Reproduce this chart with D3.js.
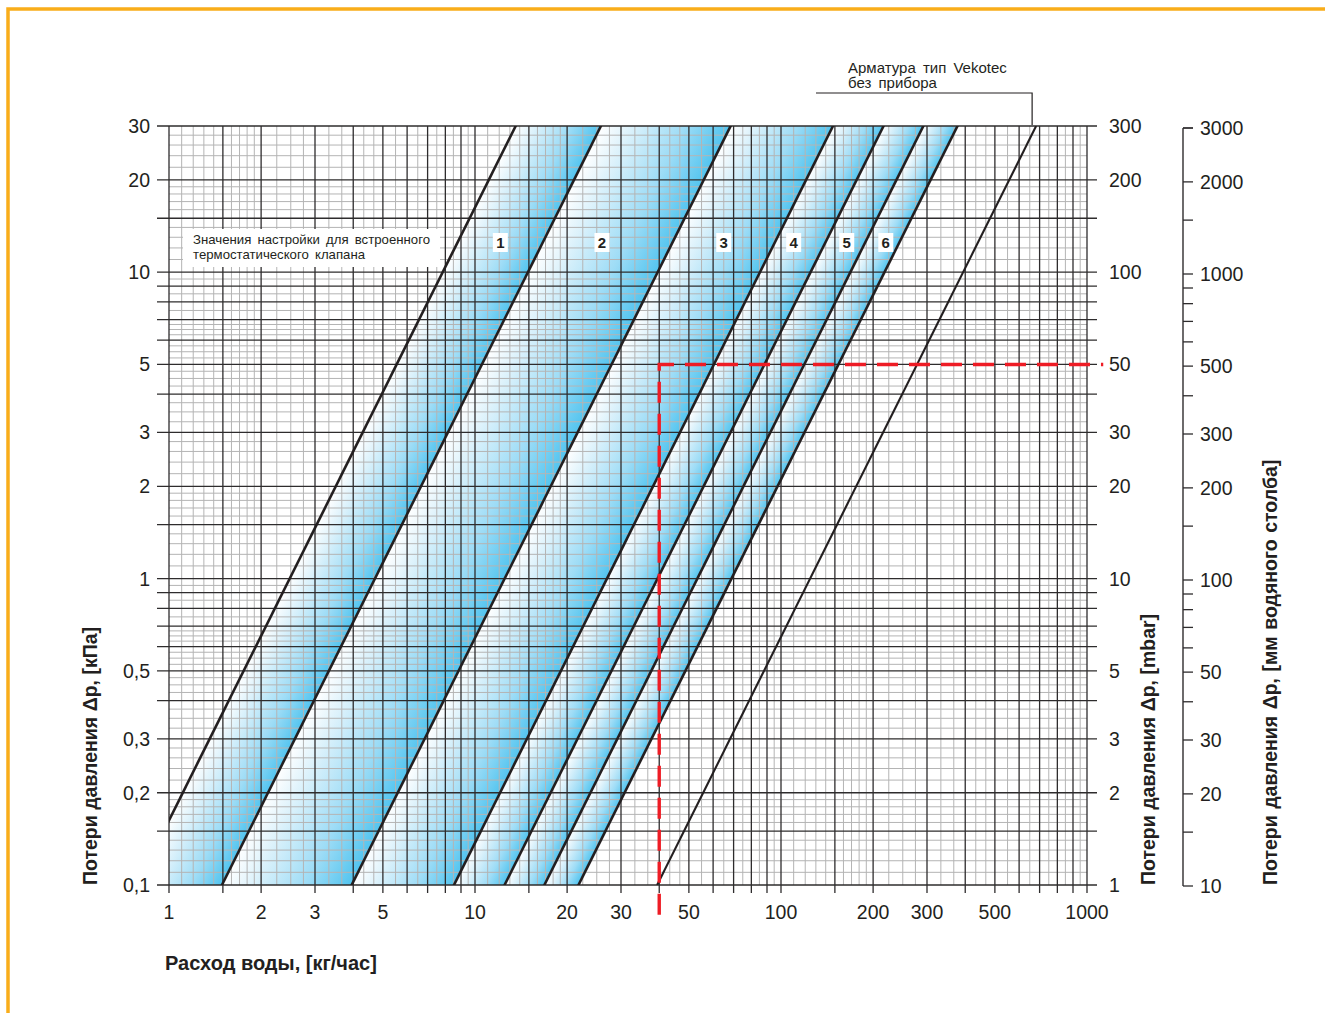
<!DOCTYPE html>
<html>
<head>
<meta charset="utf-8">
<script src="https://cdn.jsdelivr.net/npm/d3@7"></script>
<style>
  body { margin: 0; background: #fff; }
  svg { display: block; font-family: "Liberation Sans", Arial, sans-serif; }
</style>
</head>
<body>
<script>
// values
var flowTicks = [1, 2, 3, 5, 10, 20, 30, 50, 100, 200, 300, 500, 1000];
var kpaTicks = [0.1, 0.2, 0.3, 0.5, 1, 2, 3, 5, 10, 20, 30];
var kpaTickNames = ["0,1", "0,2", "0,3", "0,5", "1", "2", "3", "5", "10", "20", "30"];
var mbarTicks = [1, 2, 3, 5, 10, 20, 30, 50, 100, 200, 300];
var mmTicks = [10, 20, 30, 50, 100, 200, 300, 500, 1000, 2000, 3000];

// heavy and light grid lines inside one decade
var majorMantissa = [1, 1.5, 2, 3, 4, 5, 6, 7, 8, 9];
var xMinorMantissa = [1.1, 1.2, 1.3, 1.4, 1.6, 1.7, 1.8, 1.9, 2.25, 2.5, 2.75, 3.33, 3.67, 4.33, 4.67, 5.5, 6.5, 7.5, 8.5, 9.5];
var yMinorMantissa = [1.1, 1.2, 1.3, 1.4, 1.6, 1.7, 1.8, 1.9, 2.2, 2.4, 2.6, 2.8, 3.25, 3.5, 3.75, 4.25, 4.5, 4.75, 5.25, 5.5, 5.75, 6.25, 6.5, 6.75, 7.5, 8.5, 9.5];

// valve curves: flow [kg/h] at 1 kPa, dp = (Q / q1)^2
var settingFlowAt1kPa = [2.48, 4.71, 12.5, 27.0, 39.5, 53.3, 68.9];
var vekotecFlowAt1kPa = 124.5;
var settingNames = ["1", "2", "3", "4", "5", "6"];
var settingLabelFlow = [12.1, 26, 65, 110, 164, 220];
var settingLabelKpa = 12.5;

// example reading
var exampleFlow = 40;
var exampleKpa = 5;

var width = 1325;
var height = 1013;

var svg = d3.select("body")
    .append("svg")
    .attr("width", width)
    .attr("height", height);

var x = d3.scaleLog().domain([1, 1000]).range([169, 1087]);
var y = d3.scaleLog().domain([0.1, 30]).range([885, 126]);
var yMbar = d3.scaleLog().domain([1, 300]).range([885, 126]);
var yMm = d3.scaleLog().domain([10, 3000]).range([886, 128]);

// orange frame
svg.append("path")
    .attr("d", "M8,1013 V9 H1325")
    .attr("fill", "none")
    .attr("stroke", "#f9ad1a")
    .attr("stroke-width", 3.5);

var defs = svg.append("defs");
defs.append("clipPath").attr("id", "plot-clip")
    .append("rect")
    .attr("x", x(1)).attr("y", y(30))
    .attr("width", x(1000) - x(1)).attr("height", y(0.1) - y(30));

function decadeValues(lo, hi, mantissa) {
    var out = [];
    for (var d = lo; d < hi; d *= 10) {
        mantissa.forEach(m => out.push(+(m * d).toPrecision(6)));
    }
    out.push(hi);
    return out;
}

var xMajor = decadeValues(1, 1000, majorMantissa);
var xMinor = decadeValues(1, 1000, xMinorMantissa).filter(v => v < 1000);
var yMajor = decadeValues(0.1, 100, majorMantissa).filter(v => v <= 30);
var yMinor = decadeValues(0.1, 100, yMinorMantissa).filter(v => v < 30);

// blue bands between neighbouring curves
var bands = svg.append("g").attr("clip-path", "url(#plot-clip)");

function curveFlow(q1, dp) { return q1 * Math.sqrt(dp); }

d3.range(settingFlowAt1kPa.length - 1).forEach(i => {
    var qa = settingFlowAt1kPa[i], qb = settingFlowAt1kPa[i + 1];
    var px = x(qa), py = y(1);
    var h = x(qb) - x(qa);
    var grad = defs.append("linearGradient")
        .attr("id", "band" + i)
        .attr("gradientUnits", "userSpaceOnUse")
        .attr("x1", px).attr("y1", py)
        .attr("x2", px + 0.8 * h).attr("y2", py + 0.4 * h);
    grad.append("stop").attr("offset", 0).attr("stop-color", "#ffffff");
    grad.append("stop").attr("offset", 0.25).attr("stop-color", "#daf1fb");
    grad.append("stop").attr("offset", 0.65).attr("stop-color", "#9ddcf6");
    grad.append("stop").attr("offset", 1).attr("stop-color", "#52c4ef");

    var pts = [
        [x(curveFlow(qa, 0.05)), y(0.05)],
        [x(curveFlow(qa, 40)), y(40)],
        [x(curveFlow(qb, 40)), y(40)],
        [x(curveFlow(qb, 0.05)), y(0.05)]
    ];
    bands.append("polygon")
        .attr("points", pts.map(p => p.join(",")).join(" "))
        .attr("fill", "url(#band" + i + ")");
});

// grid
var grid = svg.append("g");
grid.selectAll(".xminor").data(xMinor).join("line")
    .attr("x1", d => x(d)).attr("x2", d => x(d))
    .attr("y1", y(30)).attr("y2", y(0.1))
    .attr("stroke", "#b4b4b4").attr("stroke-width", 1);
grid.selectAll(".yminor").data(yMinor).join("line")
    .attr("y1", d => y(d)).attr("y2", d => y(d))
    .attr("x1", x(1)).attr("x2", x(1000))
    .attr("stroke", "#b4b4b4").attr("stroke-width", 1);
grid.selectAll(".xmajor").data(xMajor).join("line")
    .attr("x1", d => x(d)).attr("x2", d => x(d))
    .attr("y1", y(30)).attr("y2", y(0.1) + 8)
    .attr("stroke", "#2e2c2d").attr("stroke-width", 1.3);
grid.selectAll(".ymajor").data(yMajor).join("line")
    .attr("y1", d => y(d)).attr("y2", d => y(d))
    .attr("x1", x(1) - 12).attr("x2", x(1000) + 10)
    .attr("stroke", "#2e2c2d").attr("stroke-width", 1.3);

// legend box
svg.append("rect")
    .attr("x", 183).attr("y", 229)
    .attr("width", 257).attr("height", 38)
    .attr("fill", "#fff");
svg.append("text")
    .attr("x", 193).attr("y", 244)
    .attr("font-size", 13.2).attr("word-spacing", 2.5).attr("fill", "#231f20")
    .text("Значения настройки для встроенного");
svg.append("text")
    .attr("x", 193).attr("y", 259)
    .attr("font-size", 13.2).attr("word-spacing", 2.5).attr("fill", "#231f20")
    .text("термостатического клапана");

// curves, above the grid
var curves = svg.append("g").attr("clip-path", "url(#plot-clip)");
var curveLine = d3.line().x(d => x(d[0])).y(d => y(d[1]));
settingFlowAt1kPa.forEach(q1 => {
    curves.append("path")
        .attr("d", curveLine([[curveFlow(q1, 0.05), 0.05], [curveFlow(q1, 40), 40]]))
        .attr("stroke", "#231f20").attr("stroke-width", 2.6).attr("fill", "none");
});
curves.append("path")
    .attr("d", curveLine([[curveFlow(vekotecFlowAt1kPa, 0.1), 0.1], [curveFlow(vekotecFlowAt1kPa, 30), 30]]))
    .attr("stroke", "#231f20").attr("stroke-width", 2.1).attr("fill", "none");

// setting numbers
var nums = svg.append("g").selectAll("g").data(settingNames).join("g")
    .attr("transform", (d, i) => "translate(" + x(settingLabelFlow[i]) + "," + y(settingLabelKpa) + ")");
nums.append("rect")
    .attr("x", -7.5).attr("y", -9.5).attr("width", 15).attr("height", 19)
    .attr("fill", "#fff");
nums.append("text")
    .attr("text-anchor", "middle").attr("dy", "0.36em")
    .attr("font-size", 15).attr("font-weight", "bold").attr("fill", "#231f20")
    .text(d => d);

// Vekotec annotation
var vTop = x(curveFlow(vekotecFlowAt1kPa, 30));
svg.append("path")
    .attr("d", "M816,93 H" + (vTop - 4) + " V" + (y(30) - 1))
    .attr("fill", "none").attr("stroke", "#231f20").attr("stroke-width", 1.2);
svg.append("text")
    .attr("x", 848).attr("y", 73)
    .attr("font-size", 15).attr("word-spacing", 3).attr("fill", "#231f20")
    .text("Арматура тип Vekotec");
svg.append("text")
    .attr("x", 848).attr("y", 88)
    .attr("font-size", 15).attr("word-spacing", 3).attr("fill", "#231f20")
    .text("без прибора");

// red example reading
svg.append("path")
    .attr("d", "M" + x(exampleFlow) + "," + y(0.08) + " V" + y(exampleKpa) + " H" + x(1130))
    .attr("fill", "none").attr("stroke", "#ee1c25").attr("stroke-width", 3.4)
    .attr("stroke-dasharray", "21,11");

// tick labels
var label = { size: 19.5, fill: "#231f20" };
svg.append("g").selectAll("text").data(flowTicks).join("text")
    .attr("x", d => x(d)).attr("y", 919)
    .attr("text-anchor", "middle")
    .attr("font-size", label.size).attr("fill", label.fill)
    .text(d => d);
svg.append("g").selectAll("text").data(kpaTicks).join("text")
    .attr("x", 150).attr("y", d => y(d)).attr("dy", "0.36em")
    .attr("text-anchor", "end")
    .attr("font-size", label.size).attr("fill", label.fill)
    .text((d, i) => kpaTickNames[i]);
svg.append("g").selectAll("text").data(mbarTicks).join("text")
    .attr("x", 1109).attr("y", d => yMbar(d)).attr("dy", "0.36em")
    .attr("font-size", label.size).attr("fill", label.fill)
    .text(d => d);

// third axis, water column
var mmAxis = svg.append("g");
var mmMajor = decadeValues(10, 3000, majorMantissa).filter(v => v <= 3000);
mmAxis.append("line")
    .attr("x1", 1183).attr("x2", 1183)
    .attr("y1", yMm(3000)).attr("y2", yMm(10))
    .attr("stroke", "#2e2c2d").attr("stroke-width", 1.4);
mmAxis.selectAll("line.t").data(mmMajor).join("line")
    .attr("class", "t")
    .attr("x1", 1183).attr("x2", 1193)
    .attr("y1", d => yMm(d)).attr("y2", d => yMm(d))
    .attr("stroke", "#2e2c2d").attr("stroke-width", 1.3);
mmAxis.selectAll("text").data(mmTicks).join("text")
    .attr("x", 1200).attr("y", d => yMm(d)).attr("dy", "0.36em")
    .attr("font-size", label.size).attr("fill", label.fill)
    .text(d => d);

// axis titles
var titleSize = 19.5;
svg.append("text")
    .attr("x", 165).attr("y", 970)
    .attr("font-size", 20).attr("font-weight", "bold").attr("fill", "#231f20")
    .text("Расход воды, [кг/час]");
svg.append("text")
    .attr("transform", "translate(97,885) rotate(-90)")
    .attr("font-size", titleSize).attr("font-weight", "bold").attr("fill", "#231f20")
    .text("Потери давления Δp, [кПа]");
svg.append("text")
    .attr("transform", "translate(1155,885) rotate(-90)")
    .attr("font-size", titleSize).attr("font-weight", "bold").attr("fill", "#231f20")
    .text("Потери давления Δp, [mbar]");
svg.append("text")
    .attr("transform", "translate(1277,885) rotate(-90)")
    .attr("font-size", titleSize).attr("font-weight", "bold").attr("fill", "#231f20")
    .attr("word-spacing", 1)
    .text("Потери давления Δp, [мм водяного столба]");
</script>
</body>
</html>
